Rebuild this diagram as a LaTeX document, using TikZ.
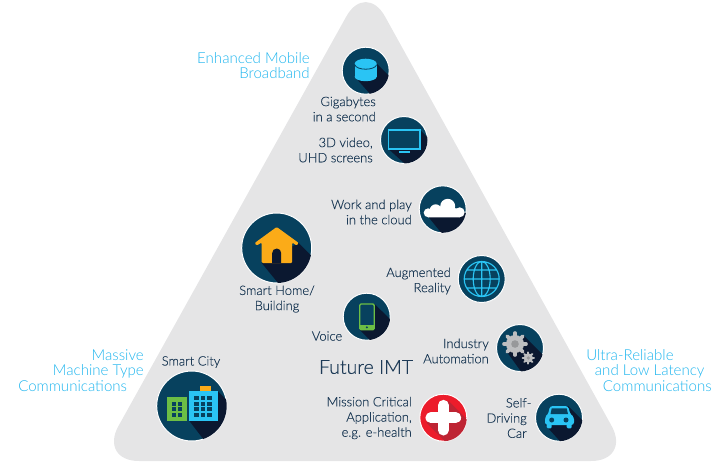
\documentclass[tikz,border=0pt]{standalone}
\usepackage{fontspec}
\setmainfont{Lato}[UprightFont=* Light]
\newfontfamily\labelfont{Lato}[UprightFont=* Light, FakeBold=0.25]
\definecolor{pyramidGrey}{HTML}{E5E5E6}
\definecolor{badgeNavy}{HTML}{07415E}
\definecolor{shadowNavy}{HTML}{0B1830}
\definecolor{labelNavy}{HTML}{1E3B57}
\definecolor{usageCyan}{HTML}{1FB5EE}
\definecolor{iconCyan}{HTML}{2AC4F4}
\definecolor{iconOrange}{HTML}{FBAB18}
\definecolor{iconGreen}{HTML}{6CBE45}
\definecolor{gearGrey}{HTML}{BDBEC0}
\definecolor{crossRed}{HTML}{EC1C2B}
\definecolor{crossShadow}{HTML}{BE2433}
\tikzset{
  badge/.style={circle, draw=white, line width=0.75pt, fill=badgeNavy, inner sep=0pt, minimum size=35.25pt},
  bigbadge/.style={badge, minimum size=52.5pt},
  label/.style={text=labelNavy, font=\labelfont\fontsize{9.7}{11.4}\selectfont, inner sep=0pt},
  usage/.style={text=usageCyan, font=\fontsize{11.3}{11.7}\selectfont, inner sep=0pt},
  shade/.style={fill=shadowNavy}
}
\def\smallclip{(0,0) circle (23.5)}
\def\bigclip{(0,0) circle (35)}
% x y radius of a gear
\newcommand{\gearwheel}[3]{
  \fill[gearGrey] (#1,#2) circle (#3*0.72);
  \foreach \a in {0,45,...,135}
    \draw[gearGrey, line width=#3*0.22pt, line cap=round] ($(#1,#2)+(\a:#3*0.88)$) -- ($(#1,#2)+(\a+180:#3*0.88)$);
}
\usetikzlibrary{calc}
\begin{document}
\begin{tikzpicture}[x=0.75pt, y=-0.75pt]
  \useasboundingbox (0,0) rectangle (720,468);

  % Pyramid
  \fill[pyramidGrey, rounded corners=30pt] (365,461) -- (631,461) -- (365.7,-18.4) -- (99,461) -- cycle;

  % Gigabytes
  \node[badge] (gigaIcon) at (365.7,70.7) {};
  \begin{scope}[shift={(gigaIcon.center)}]
    \clip \smallclip;
    \fill[shade] (11,-7) -- (50,32) -- (30,52) -- (-11,6) -- cycle;
    \fill[iconCyan] (-11,-7) rectangle (11,6);
    \fill[iconCyan] (0,6) ellipse (11 and 4.5);
    \fill[iconCyan] (0,-7) ellipse (11 and 5);
    \draw[badgeNavy, line width=0.6pt] (-11,-6) .. controls (-9,0) and (9,0) .. (11,-6);
  \end{scope}

  % TV
  \node[badge] (tvIcon) at (404,140) {};
  \begin{scope}[shift={(tvIcon.center)}]
    \clip \smallclip;
    \fill[shade] (16,-10) -- (50,24) -- (30,50) -- (-15.5,9) -- cycle;
    \draw[iconCyan, line width=0.85pt, fill=badgeNavy] (-15.5,-10) rectangle (16,9);
    \fill[iconCyan] (-5.5,11) rectangle (6,13);
  \end{scope}

  % Cloud
  \node[badge] (cloudIcon) at (442.7,209.3) {};
  \begin{scope}[shift={(cloudIcon.center)}]
    \clip \smallclip;
    \fill[shade] (22,3) -- (50,31) -- (20,50) -- (-14,8) -- cycle;
    \fill[white] (-14.5,3.5) circle (4.5);
    \fill[white] (-7,1) circle (6);
    \fill[white] (5,-3) circle (7.5);
    \fill[white] (17,3) circle (5);
    \fill[white] (-14.5,8) -- (17,8) -- (17,0) -- (5,-3) -- (-7,1) -- cycle;
  \end{scope}

  % Smart home
  \node[bigbadge] (homeIcon) at (276.7,248) {};
  \begin{scope}[shift={(homeIcon.center)}]
    \clip \bigclip;
    \fill[shade] (22,-5) -- (65,38) -- (30,70) -- (-15,15) -- cycle;
    \fill[iconOrange, rounded corners=0.8pt] (0,-21) -- (22,-5) -- (20,-2.5) -- (15.5,-5.5) -- (15.5,15) -- (-15,15) -- (-15,-5.5) -- (-20,-2.5) -- (-22,-5) -- cycle;
    \fill[shade] (-4.5,15) -- (-4.5,5) arc (180:0:4.5 and -4.5) -- (4.5,15) -- cycle;
  \end{scope}

  % Voice
  \node[badge] (voiceIcon) at (366.7,316.7) {};
  \begin{scope}[shift={(voiceIcon.center)}]
    \clip \smallclip;
    \fill[shade] (8,-12.7) -- (50,29) -- (30,50) -- (-7,13) -- cycle;
    \draw[iconGreen, line width=1pt, fill=badgeNavy, rounded corners=1pt] (-7,-12.7) rectangle (7.5,13);
    \fill[iconGreen] (-7,8) rectangle (7.5,13);
    \fill[badgeNavy] (0.2,10.6) circle (1.1);
  \end{scope}

  % Smart city
  \node[bigbadge] (cityIcon) at (191.7,406) {};
  \begin{scope}[shift={(cityIcon.center)}]
    \clip \bigclip;
    \fill[shade] (26,-15) -- (65,24) -- (40,70) -- (-2.3,15) -- cycle;
    \fill[iconOrange] (8.3,-20) rectangle (19,-15);
    \fill[iconGreen] (-25,-9.3) rectangle (-5,15);
    \fill[iconCyan] (-2.3,-15) rectangle (26,15);
    \foreach \x in {-20,-14}
      \foreach \y in {-4.3,1,6.7}
        \fill[badgeNavy] (\x,\y) rectangle ++(4.5,4);
    \foreach \x in {2.3,9,15.7}
      \foreach \y in {-10,-4,1,6.7}
        \fill[badgeNavy] (\x,\y) rectangle ++(4.5,4);
  \end{scope}

  % Augmented reality
  \node[badge] (globeIcon) at (481.7,279) {};
  \begin{scope}[shift={(globeIcon.center)}]
    \clip \smallclip;
    \draw[iconCyan, line width=0.85pt] (0,0) circle (17.5) (0,0) ellipse (8.5 and 17.5) (0,-17.5) -- (0,17.5) (-17.5,0) -- (17.5,0)
      (-14.5,-9) -- (14.5,-9) (-14.5,9) -- (14.5,9);
  \end{scope}

  % Industry automation
  \node[badge] (gearIcon) at (520,348) {};
  \begin{scope}[shift={(gearIcon.center)}]
    \clip \smallclip;
    \fill[shade] (3,-13) -- (50,34) -- (20,50) -- (-13,4) -- cycle;
    \gearwheel{-5}{-4}{12.5}
    \fill[gearGrey!80!black] (-5,-4) circle (3.8);
    \gearwheel{8.3}{10}{6.5}
    \fill[gearGrey!80!black] (8.3,10) circle (1.8);
  \end{scope}

  % Mission critical
  \node[badge, fill=crossRed] (crossIcon) at (443.3,417.7) {};
  \begin{scope}[shift={(crossIcon.center)}]
    \clip \smallclip;
    \fill[crossShadow] (5,-17) -- (50,28) -- (28,50) -- (-17,5) -- cycle;
    \draw[white, line width=8pt, line cap=round] (-12.5,0) -- (12.5,0) (0,-12.5) -- (0,12.5);
  \end{scope}

  % Self-driving car
  \node[badge] (carIcon) at (559,417.7) {};
  \begin{scope}[shift={(carIcon.center)}]
    \clip \smallclip;
    \fill[shade] (9,-11.7) -- (50,29) -- (25,50) -- (-14,7) -- cycle;
    \fill[iconCyan, rounded corners=1pt] (-12.3,6) rectangle (-7.3,10.7) (7.7,6) rectangle (12.7,10.7);
    \fill[iconCyan, rounded corners=2pt] (-9,-11.7) -- (9,-11.7) -- (11.5,-3) -- (15,-1) -- (15,7.3) -- (-14,7.3) -- (-14,-1) -- (-11,-3) -- cycle;
    \fill[badgeNavy] (-7.3,-9.3) -- (7.7,-9.3) -- (9,-3.7) -- (-8.5,-3.7) -- cycle;
    \fill[badgeNavy] (-7.3,2.3) circle (2.5) (7,2.3) circle (2.5);
  \end{scope}

  % Labels
  \node[label, align=right, anchor=east] (gigaLabel) at (376,109) {Gigabytes\\in a second};
  \node[label, align=right, anchor=east] (tvLabel) at (373,150) {3D video,\\UHD screens};
  \node[label, align=right, anchor=east] (cloudLabel) at (412,212) {Work and play\\in the cloud};
  \node[label, align=center] (homeLabel) at (277,299) {Smart Home/\\Building};
  \node[label] (voiceLabel) at (327,336) {Voice};
  \node[label] (cityLabel) at (191,362) {Smart City};
  \node[label, align=right, anchor=east] (globeLabel) at (451,281) {Augmented\\Reality};
  \node[label, align=right, anchor=east] (gearLabel) at (489,351) {Industry\\Automation};
  \node[label, align=right, anchor=east] (crossLabel) at (412,418) {Mission Critical\\Application,\\e.g. e-health};
  \node[label, align=right, anchor=east] (carLabel) at (527,418) {Self\rlap{-}\\Driving\\Car};

  % Centre
  \node[text=labelNavy, font=\labelfont\fontsize{14.6}{18}\selectfont, inner sep=0pt] (futureLabel) at (366,367) {Future IMT};

  % Usage scenarios
  \node[usage, align=right, anchor=east] (embbLabel) at (310,65.5) {Enhanced Mobile\\Broadband};
  \node[usage, align=right, anchor=east] (mmtcLabel) at (144,370.5) {Massive\\Machine Type\hspace*{6.5pt}\\Communications\hspace*{12.5pt}};
  \node[usage, align=left, anchor=west] (urllcLabel) at (586,370.5) {Ultra-Reliable\\\hspace*{6.5pt}and Low Latency\\\hspace*{12.5pt}Communications};
\end{tikzpicture}
\end{document}
